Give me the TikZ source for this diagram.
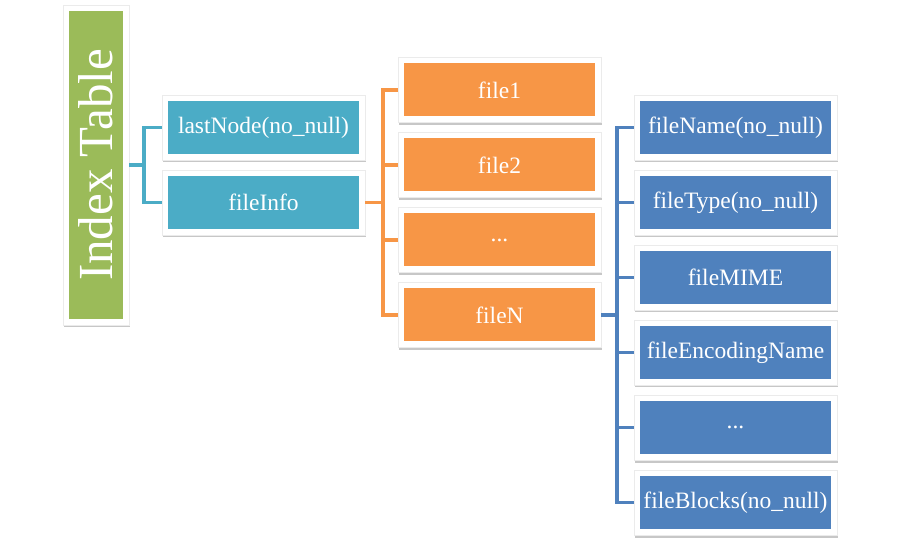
\documentclass[tikz,border=0pt]{standalone}
\usepackage{fontspec}
\setmainfont{Liberation Serif}
\usetikzlibrary{shadows}
\definecolor{cgreen}{HTML}{9BBB59}
\definecolor{cteal}{HTML}{4BACC6}
\definecolor{corange}{HTML}{F79646}
\definecolor{cblue}{HTML}{4F81BD}
\tikzset{
  framebox/.style={rectangle, fill=white, draw=black!8, line width=0.4pt,
    inner sep=0pt, text=white,
    drop shadow={shadow xshift=1.2pt, shadow yshift=-2.5pt, opacity=0.4, fill=black!55},
    path picture={\fill[#1] ([shift={(6pt,-6pt)}]path picture bounding box.north west)
      rectangle ([shift={(-6pt,6pt)}]path picture bounding box.south east);}},
  itembox/.style={framebox=#1, minimum width=203pt, minimum height=65pt, font=\fontsize{23.5}{26}\selectfont},
  conn/.style={draw=#1, line width=3.5pt, line join=miter},
}
\begin{document}
\begin{tikzpicture}[x=1pt,y=-1pt]
\useasboundingbox (0,0) rectangle (900,545);
% root
\node[framebox=cgreen, minimum width=66pt, minimum height=320pt] (idx) at (96,165) {};
\node[text=white, rotate=90, font=\fontsize{49}{52}\selectfont] (idxt) at (96,165) {Index Table};
% level 1
\node[itembox=cteal] (last) at (263.5,127.5) {lastNode(no\_null)};
\node[itembox=cteal] (info) at (263.5,202.5) {fileInfo};
% level 2
\node[itembox=corange] (f1) at (499.5,90) {file1};
\node[itembox=corange] (f2) at (499.5,165) {file2};
\node[itembox=corange] (fd) at (499.5,240) {...};
\node[itembox=corange] (fN) at (499.5,315) {fileN};
% level 3
\node[itembox=cblue] (g1) at (735.5,127.5) {fileName(no\_null)};
\node[itembox=cblue] (g2) at (735.5,202.5) {fileType(no\_null)};
\node[itembox=cblue] (g3) at (735.5,277.5) {fileMIME};
\node[itembox=cblue] (g4) at (735.5,352.5) {fileEncodingName};
\node[itembox=cblue] (g5) at (735.5,427.5) {...};
\node[itembox=cblue] (g6) at (735.5,502.5) {fileBlocks(no\_null)};
% connectors
\coordinate (b1) at (144,165);
\draw[conn=cteal] (idx.east) -- (b1) |- (last.west);
\draw[conn=cteal] (b1) |- (info.west);
\coordinate (b2) at (383,202.5);
\draw[conn=corange] (info.east) -- (b2);
\draw[conn=corange] (b2) |- (f1.west);
\draw[conn=corange] (b2) |- (f2.west);
\draw[conn=corange] (b2) |- (fd.west);
\draw[conn=corange] (b2) |- (fN.west);
\coordinate (b3) at (617,315);
\draw[conn=cblue] (fN.east) -- (b3);
\foreach \n in {g1,g2,g3,g4,g5,g6}{\draw[conn=cblue] (b3) |- (\n.west);}
\end{tikzpicture}
\end{document}
